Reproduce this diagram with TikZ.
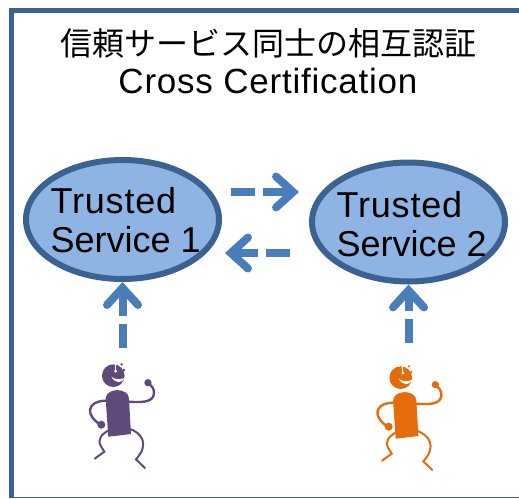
\documentclass[tikz,border=0pt]{standalone}
\usepackage{fontspec}
\setmainfont{Liberation Sans}
\newfontfamily\cjk{Noto Sans CJK JP}
\newfontfamily\widesans[LetterSpace=2.2]{Liberation Sans}
\usetikzlibrary{arrows.meta,shapes.geometric}
\definecolor{framecol}{HTML}{3C6291}
\definecolor{servfill}{HTML}{8EB4E3}
\definecolor{arrowcol}{HTML}{4A7EBB}
\definecolor{purplecol}{HTML}{604A7B}
\definecolor{orangecol}{HTML}{E46C0A}
\tikzset{
  service/.style={ellipse,draw=framecol,fill=servfill,line width=6pt,minimum width=193pt,minimum height=119pt,inner sep=0pt},
  servtext/.style={align=left,inner sep=0pt,font=\fontsize{36pt}{39pt}\selectfont},
  flow/.style={arrowcol,line width=8pt,dash pattern=on 24pt off 8pt on 200pt,-{Straight Barb[length=17pt,width=31pt,line width=8pt,line cap=round,line join=miter]}},
  pics/dancer/.style={code={
    \begin{scope}[scale=1/3,#1]
      \fill (0,0) circle (34);
      \fill (25,-34) circle (4);
      \fill (32,-17) circle (4);
      \fill (104,21) circle (11);
      \fill (-36,147) circle (12);
      \fill (-23,68) .. controls (-20,35) and (45,35) .. (47,68) -- (53,175) -- (-15,183) -- cycle;
      \draw[line width=2.4pt,line cap=round] (45,78) .. controls (80,80) and (118,82) .. (122,55) .. controls (124,40) and (115,30) .. (106,24);
      \draw[line width=2.4pt,line cap=round] (-22,75) .. controls (-60,75) and (-75,95) .. (-68,115) .. controls (-62,130) and (-50,140) .. (-38,147);
      \draw[line width=2pt,line cap=round] (-12,163) .. controls (-35,175) and (-48,190) .. (-38,210) -- (-27,228) -- (-56,249);
      \draw[line width=2pt,line cap=round] (45,158) .. controls (85,170) and (110,205) .. (68,251) -- (95,277);
      \draw[white,line width=1pt] (6,-34) -- (6,-16);
      \fill[white] (7,-14) circle (5);
      \fill[white] (-6,3) .. controls (5,12) and (20,12) .. (34,7) .. controls (26,24) and (6,24) .. (-6,3);
    \end{scope}
  }}
}
\begin{document}
\begin{tikzpicture}[x=1pt,y=-1pt]
      \useasboundingbox (0,0) rectangle (519,498);
      \draw[framecol,line width=5pt] (519,10.5)--(11.5,10.5)--(11.5,498);
      \draw[framecol,line width=1pt] (11.5,497.5)--(519,497.5);

      \node[anchor=base,font=\fontsize{32pt}{32pt}\cjk] (title) at (268.5,55) {信頼サービス同士の相互認証};
      \node[anchor=base,font=\fontsize{35pt}{35pt}\widesans] (subtitle) at (268,93) {Cross Certification};

      \node[service] (servA) at (122.5,219.5) {};
      \node[service] (servB) at (408.5,222) {};
      \node[servtext,anchor=west] (textA) at (50.5,220.5) {{\widesans Trusted}\\Service 1};
      \node[servtext,anchor=west] (textB) at (336.5,224.5) {{\widesans Trusted}\\Service 2};

      \coordinate (abStart) at (231,192);
      \coordinate (abEnd) at (299,192);
      \coordinate (baStart) at (290,253);
      \coordinate (baEnd) at (225,253);
      \coordinate (userA) at (122.5,348);
      \coordinate (userB) at (408.5,343);

      \draw[flow] (abStart)--(abEnd);
      \draw[flow] (baStart)--(baEnd);
      \draw[flow] (userA)--(servA.south);
      \draw[flow] (userB)--(servB.south);

      \pic (manA) at (113.3,375.7) {dancer={purplecol}};
      \pic (manB) at (400.7,377.7) {dancer={orangecol}};
\end{tikzpicture}
\end{document}
